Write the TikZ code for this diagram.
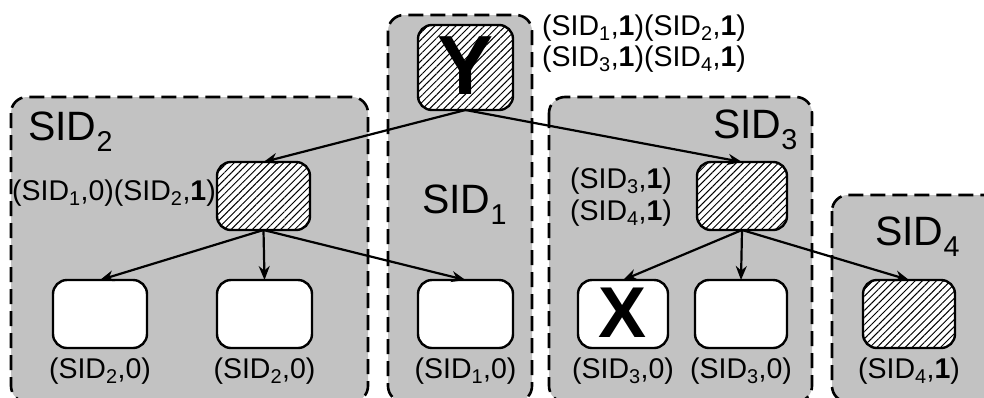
\documentclass[tikz,border=0pt]{standalone}
\usepackage{fontspec}
\setmainfont{Liberation Sans}
\usetikzlibrary{arrows.meta,patterns.meta}
\newcommand\sid[1]{SID\textsubscript{#1}}
\begin{document}
\begin{tikzpicture}[x=1pt,y=-1pt,
  region/.style={draw=black,line width=2.6pt,dash pattern=on 15pt off 7pt,fill=black!24,rounded corners=16pt},
  leaf/.style={draw=black,line width=2.4pt,rounded corners=14pt,fill=white},
  hatched/.style={leaf,preaction={fill=white},pattern={Lines[angle=45,distance=5pt,line width=1pt]}},
  lbl/.style={font=\fontsize{28.5}{31}\selectfont,inner sep=0pt},
  big/.style={font=\fontsize{41}{44}\selectfont,inner sep=0pt},
  arr/.style={line width=2.2pt,-{Stealth[length=14pt,width=11pt]}}
]
\useasboundingbox (0,0) rectangle (984,397);
\clip (0,0) rectangle (984,397);
% regions
\draw[region] (11,97) rectangle (368,402);
\draw[region] (388,15) rectangle (532,402);
\draw[region] (549,97) rectangle (812,402);
\draw[region] (832,195) rectangle (1000,402);
% region labels
\node[big,anchor=base west] (l2) at (28,140) {\sid{2}};
\node[big,anchor=base west] (l1) at (422,213) {\sid{1}};
\node[big,anchor=base east] (l3) at (798,138) {\sid{3}};
\node[big,anchor=base west] (l4) at (875,245) {\sid{4}};
% nodes
\draw[hatched] (418,25) rectangle (513,110);
\node[font=\fontsize{84}{84}\bfseries\selectfont,inner sep=0pt] (Y) at (465.5,66) {Y};
\coordinate (ybot) at (465.5,110);
\draw[hatched] (217,162) rectangle (310,230);
\coordinate (p2t) at (263.5,162); \coordinate (p2b) at (263.5,230);
\draw[hatched] (697,162) rectangle (787,230);
\coordinate (p3t) at (742,162); \coordinate (p3b) at (742,230);
% leaves
\draw[leaf] (53,280) rectangle (147,348);   \coordinate (a) at (100,280);
\draw[leaf] (217,280) rectangle (312,348);  \coordinate (b) at (264.5,280);
\draw[leaf] (418,280) rectangle (513,348);  \coordinate (c) at (465.5,280);
\draw[leaf] (578,280) rectangle (668,348);  \coordinate (d) at (623,280);
\draw[leaf] (695,280) rectangle (787,348);  \coordinate (e) at (741,280);
\draw[hatched] (863,280) rectangle (955,348); \coordinate (f) at (909,280);
\node[font=\fontsize{72}{72}\bfseries\selectfont,inner sep=0pt] (X) at (623,313) {X};
% arrows
\draw[arr] (ybot) -- (p2t);
\draw[arr] (ybot) -- (p3t);
\draw[arr] (p2b) -- (a);
\draw[arr] (p2b) -- (b);
\draw[arr] (p2b) -- (c);
\draw[arr] (p3b) -- (d);
\draw[arr] (p3b) -- (e);
\draw[arr] (p3b) -- (f);
% labels
\node[lbl] (t1) at (100,371) {(\sid{2},0)};
\node[lbl] (t2) at (264.5,371) {(\sid{2},0)};
\node[lbl] (t3) at (465.5,371) {(\sid{1},0)};
\node[lbl] (t4) at (623,371) {(\sid{3},0)};
\node[lbl] (t5) at (741,371) {(\sid{3},0)};
\node[lbl] (t6) at (909,371) {(\sid{4},\textbf{1})};
\node[lbl,anchor=west] (ya) at (542,28) {(\sid{1},\textbf{1})(\sid{2},\textbf{1})};
\node[lbl,anchor=west] (yb) at (542,59) {(\sid{3},\textbf{1})(\sid{4},\textbf{1})};
\node[lbl,anchor=east] (pa) at (216,193) {(\sid{1},0)(\sid{2},\textbf{1})};
\node[lbl] (qa) at (621,181) {(\sid{3},\textbf{1})};
\node[lbl] (qb) at (621,213) {(\sid{4},\textbf{1})};
\end{tikzpicture}
\end{document}
